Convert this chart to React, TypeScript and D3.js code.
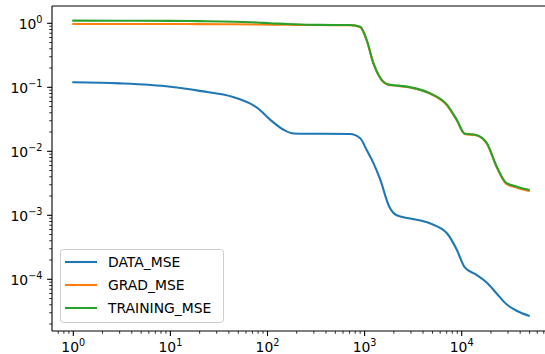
import React, { useEffect, useRef } from 'react';
import * as d3 from 'd3';

// training steps (shared by all three curves)
const steps = [1, 3, 10, 20, 45, 78, 107, 148, 186, 316, 708, 900, 1050, 1230, 1450, 1780, 2140, 2950, 4680, 7080, 8900, 10700, 14100, 18200, 22900, 28800, 37200, 49000];

const dataMse = [0.12, 0.115, 0.102, 0.088, 0.07, 0.048, 0.031, 0.0215, 0.019, 0.0188, 0.0186, 0.016, 0.0105, 0.0066, 0.0036, 0.0014, 0.001, 0.00089, 0.00075, 0.00052, 0.00029, 0.000155, 0.000118, 0.000088, 0.00006, 0.000041, 0.000032, 0.000027];
const gradMse = [0.975, 0.975, 0.975, 0.972, 0.965, 0.96, 0.955, 0.95, 0.945, 0.94, 0.935, 0.875, 0.545, 0.238, 0.139, 0.109, 0.106, 0.099, 0.08, 0.052, 0.0305, 0.0187, 0.0178, 0.0131, 0.0057, 0.0031, 0.0027, 0.0024];
const trainingMse = [1.1, 1.095, 1.09, 1.08, 1.06, 1.03, 1.0, 0.98, 0.965, 0.945, 0.94, 0.88, 0.55, 0.24, 0.14, 0.11, 0.107, 0.1, 0.081, 0.053, 0.031, 0.019, 0.018, 0.0133, 0.0058, 0.0032, 0.0028, 0.0025];

const seriesNames = ['DATA_MSE', 'GRAD_MSE', 'TRAINING_MSE'];
const seriesColors = ['#1f77b4', '#ff7f0e', '#2ca02c'];

const xDecades = [0, 1, 2, 3, 4];
const yDecades = [0, -1, -2, -3, -4];

const App = () => {
    const svgRef = useRef<SVGSVGElement>(null);
    const width = 545;
    const height = 354;

    useEffect(() => {
        const svg = d3.select(svgRef.current);
        svg.selectAll("*").remove();

        const left = 52, right = 546, top = 6, bottom = 331;
        const font = "DejaVu Sans, sans-serif";

        const x = d3.scaleLog().domain([1, 1e4]).range([73.3, 461.7]);
        const y = d3.scaleLog().domain([1, 1e-4]).range([23.3, 279.3]);

        svg.append("defs").append("clipPath").attr("id", "plot")
            .append("rect").attr("x", left).attr("y", top)
            .attr("width", right - left).attr("height", bottom - top);

        const g = svg.append("g");

        // lines
        const allSeries = [dataMse, gradMse, trainingMse];
        const line = d3.line<number>()
            .x((_, i) => x(steps[i]))
            .y(d => y(d))
            .curve(d3.curveMonotoneX);

        g.append("g").attr("clip-path", "url(#plot)")
            .selectAll("path")
            .data(allSeries)
            .enter()
            .append("path")
            .attr("fill", "none")
            .attr("stroke", (_, i) => seriesColors[i])
            .attr("stroke-width", 2.1)
            .attr("stroke-linejoin", "round")
            .attr("stroke-linecap", "square")
            .attr("d", d => line(d));

        // ticks (major on decades, minor in between)
        const xMin = x.invert(left), xMax = x.invert(right);
        const yMin = y.invert(bottom), yMax = y.invert(top);
        const xTicks = d3.scaleLog().domain([xMin, xMax]).ticks().filter(t => t >= xMin && t <= xMax);
        const yTicks = d3.scaleLog().domain([yMin, yMax]).ticks().filter(t => t >= yMin && t <= yMax);

        const isMajor = (t: number) => Math.abs(Math.log10(t) - Math.round(Math.log10(t))) < 1e-9;

        g.selectAll(".xtick")
            .data(xTicks)
            .enter()
            .append("line")
            .attr("x1", d => x(d)).attr("x2", d => x(d))
            .attr("y1", bottom).attr("y2", d => bottom + (isMajor(d) ? 4.9 : 2.8))
            .attr("stroke", "#000").attr("stroke-width", d => isMajor(d) ? 1.1 : 0.8);

        g.selectAll(".ytick")
            .data(yTicks)
            .enter()
            .append("line")
            .attr("y1", d => y(d)).attr("y2", d => y(d))
            .attr("x1", left).attr("x2", d => left - (isMajor(d) ? 4.9 : 2.8))
            .attr("stroke", "#000").attr("stroke-width", d => isMajor(d) ? 1.1 : 0.8);

        // spines
        g.append("line").attr("x1", left).attr("x2", left).attr("y1", top).attr("y2", bottom)
            .attr("stroke", "#000").attr("stroke-width", 1.1);
        g.append("line").attr("x1", left).attr("x2", right).attr("y1", bottom).attr("y2", bottom)
            .attr("stroke", "#000").attr("stroke-width", 1.1);
        g.append("line").attr("x1", left).attr("x2", right).attr("y1", top).attr("y2", top)
            .attr("stroke", "#000").attr("stroke-width", 1.1);

        // tick labels
        const label = (sel: any, e: number) => {
            sel.append("tspan").text("10");
            sel.append("tspan").attr("dy", -6).attr("font-size", 9.7)
                .text(e < 0 ? "\u2212" + Math.abs(e) : String(e));
        };

        xDecades.forEach(e => {
            const t = g.append("text")
                .attr("x", x(Math.pow(10, e)))
                .attr("y", 351.5)
                .attr("text-anchor", "middle")
                .attr("font-family", font)
                .attr("font-size", 13.9)
                .attr("fill", "#000");
            label(t, e);
        });

        yDecades.forEach(e => {
            const t = g.append("text")
                .attr("x", 42.5)
                .attr("y", y(Math.pow(10, e)) + 6)
                .attr("text-anchor", "end")
                .attr("font-family", font)
                .attr("font-size", 13.9)
                .attr("fill", "#000");
            label(t, e);
        });

        // legend
        const lg = g.append("g");
        lg.append("rect")
            .attr("x", 60.5).attr("y", 249.5)
            .attr("width", 163).attr("height", 73)
            .attr("rx", 3)
            .attr("fill", "rgba(255,255,255,0.8)")
            .attr("stroke", "#cccccc").attr("stroke-width", 1);

        seriesNames.forEach((name, i) => {
            const ly = 262 + i * 23;
            lg.append("line")
                .attr("x1", 65).attr("x2", 97)
                .attr("y1", ly).attr("y2", ly)
                .attr("stroke", seriesColors[i]).attr("stroke-width", 2.1);
            lg.append("text")
                .attr("x", 108).attr("y", ly + 5)
                .attr("font-family", font)
                .attr("font-size", 13.9)
                .attr("fill", "#000")
                .text(name);
        });
    }, []);

    return (
        <svg ref={svgRef} width={width} height={height}
            style={{ position: 'absolute', left: 0, top: 0, background: '#fff' }}></svg>
    );
};

export default App;
